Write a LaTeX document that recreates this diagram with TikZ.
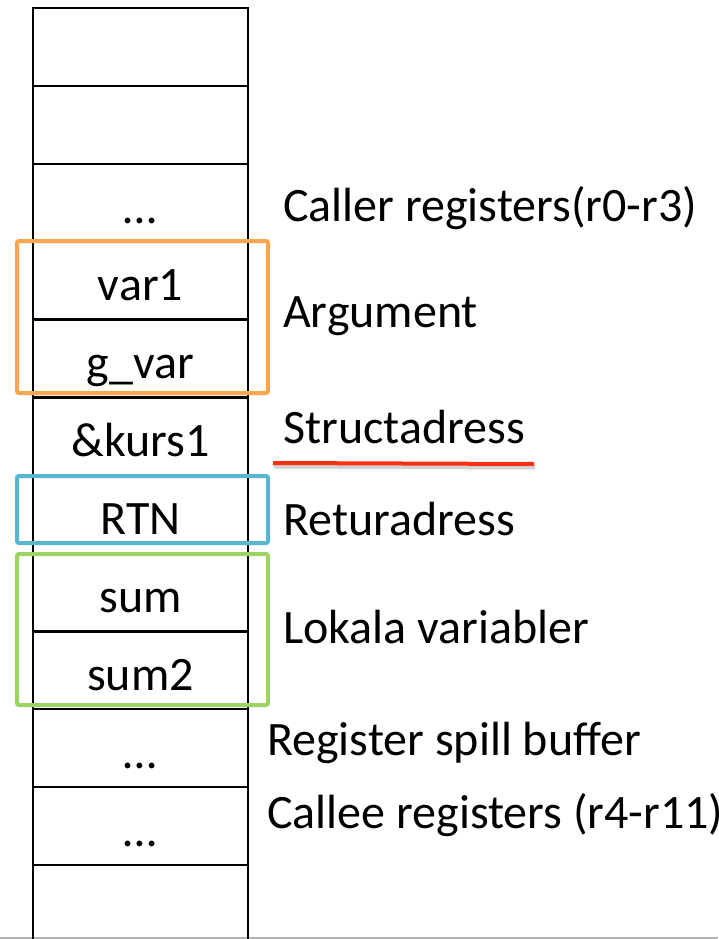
\documentclass[tikz,border=0pt]{standalone}
\usepackage{fontspec}
\setmainfont{Carlito}
\definecolor{argorange}{HTML}{F9A64F}
\definecolor{rtnblue}{HTML}{58B6CF}
\definecolor{locgreen}{HTML}{9DD363}
\definecolor{ulred}{HTML}{FF3010}
\definecolor{edgegray}{HTML}{B4B4B4}
\tikzset{
  cell/.style={draw=black, line width=2.6pt, rectangle, minimum width=215pt, minimum height=77.9pt, inner sep=0pt},
  celltext/.style={anchor=base, inner sep=0pt, font=\fontsize{48}{56}\selectfont},
  sidelabel/.style={anchor=base west, inner sep=0pt, font=\fontsize{48}{56}\selectfont},
  groupbox/.style={line width=4pt, rounded corners=2pt},
}
\begin{document}
\begin{tikzpicture}[x=1pt,y=-1pt]
\useasboundingbox (0,0) rectangle (718,939);
\fill[white] (0,0) rectangle (718,939);
\draw[edgegray, line width=2pt] (0,938) -- (718,938);
% stack cells
\foreach \i in {1,...,12}{
  \node[cell] (c\i) at (140.5, {8 + 77.9*(\i-0.5)}) {};
}
% cell texts
\node[celltext] (t3) at ([yshift=20pt]c3.south) {…};
\node[celltext] (t4) at ([yshift=20pt]c4.south) {var1};
\node[celltext] (t5) at ([yshift=20pt]c5.south) {g\_var};
\node[celltext] (t6) at ([yshift=20pt]c6.south) {\&kurs1};
\node[celltext] (t7) at ([yshift=20pt]c7.south) {RTN};
\node[celltext] (t8) at ([yshift=20pt]c8.south) {sum};
\node[celltext] (t9) at ([yshift=20pt]c9.south) {sum2};
\node[celltext] (t10) at ([yshift=20pt]c10.south) {…};
\node[celltext] (t11) at ([yshift=20pt]c11.south) {…};
% group boxes
\draw[groupbox, argorange] (17,241) rectangle (268,393);
\draw[groupbox, rtnblue] (17,476) rectangle (268,543);
\draw[groupbox, locgreen] (17,554) rectangle (268,705);
% side labels
\node[sidelabel] (l1) at (283,221) {Caller registers(r0-r3)};
\node[sidelabel] (l2) at (283,327) {Argument};
\node[sidelabel] (l3) at (283,443) {Structadress};
\node[sidelabel] (l4) at (283,535) {Returadress};
\node[sidelabel] (l5) at (283,643) {Lokala variabler};
\node[sidelabel] (l6) at (267,755) {Register spill buffer};
\node[sidelabel] (l7) at (267,828) {Callee registers (r4-r11)};
% underline
\coordinate (u1) at (273,463);
\coordinate (u2) at (534,464);
\draw[black, opacity=0.18, line width=5pt] ([xshift=1pt,yshift=-3pt]u1) -- ([xshift=1pt,yshift=-3pt]u2);
\draw[ulred, line width=4pt] (u1) -- (u2);
\end{tikzpicture}
\end{document}
